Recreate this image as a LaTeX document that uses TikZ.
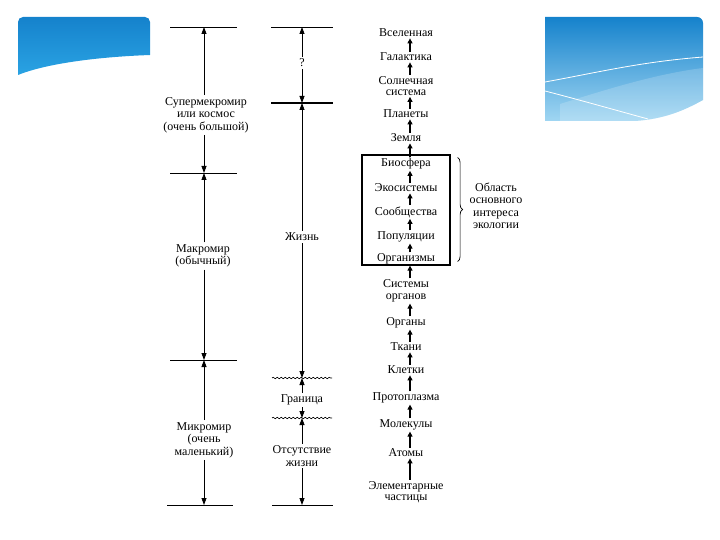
\documentclass[tikz,border=0pt]{standalone}
\usepackage{fontspec}
\setmainfont{Liberation Serif}
\usetikzlibrary{positioning,arrows.meta,decorations.pathreplacing,decorations.pathmorphing}
\definecolor{tplTop}{RGB}{21,130,204}
\definecolor{tplMid}{RGB}{42,163,227}
\definecolor{tplLow}{RGB}{160,214,242}
\tikzset{
  level/.style={font=\fontsize{12}{11}\selectfont, align=center, inner sep=1.2pt},
  scalelbl/.style={font=\fontsize{12}{12.5}\selectfont, align=center, inner sep=2pt},
  tick/.style={line width=0.9pt},
  wavytick/.style={line width=0.6pt, decorate, decoration={snake, amplitude=0.8pt, segment length=4pt}},
  dim/.style={-{Triangle[length=7pt,width=5pt]}, line width=0.8pt},
  chain/.style={-{Triangle[length=5pt,width=5pt]}, line width=1.1pt},
  ecobox/.style={draw, line width=1.2pt, minimum width=88pt, minimum height=110pt},
  bracket/.style={decorate, decoration={brace, amplitude=5pt}, line width=0.7pt}
}
\begin{document}
\begin{tikzpicture}[x=1pt,y=-1pt]
  \useasboundingbox (0,0) rectangle (720,540);
  % slide template corners
  \shade[top color=tplTop, bottom color=tplMid] (18,75) [rounded corners=5pt]-- (18,17) -- (150,17) [sharp corners]-- (150,55) .. controls (95,57) and (45,64) .. (18,75) -- cycle;
  \shade[top color=tplTop, bottom color=tplLow] (545,121) -- (545,17) [rounded corners=6pt]-- (703,17) -- (703,50) [sharp corners]-- (703,100) .. controls (685,110) and (665,119) .. (635,121) -- cycle;
  \fill[white, opacity=0.18] (560,104) .. controls (605,90) and (655,74) .. (703,68) -- (703,100) .. controls (685,110) and (665,119) .. (635,121) -- (560,121) -- cycle;
  \draw[white, line width=0.8pt] (545,82) .. controls (600,72) and (640,62) .. (703,57);
  \draw[white, line width=0.8pt] (545,91) .. controls (580,100) and (615,110) .. (648,119);

  % scale of worlds
  \coordinate (a0) at (204,27);
  \coordinate (a1) at (204,173);
  \coordinate (a2) at (204,360);
  \coordinate (a3) at (204,505);
  \foreach \c in {a0,a1,a2}
    \draw[tick] ([xshift=-34pt]\c) -- ([xshift=33pt]\c);
  \draw[tick] ([xshift=-37pt]a3) -- ([xshift=29pt]a3);
  \node[scalelbl] (super) at (206,115) {Супермекромир\\или космос\\(очень большой)};
  \node[scalelbl] (macro) at (203,256) {Макромир\\(обычный)};
  \node[scalelbl] (micro) at (204,440) {Микромир\\(очень\\маленький)};
  \draw[dim] (super.north -| a0) -- (a0);
  \draw[dim] (super.south -| a1) -- (a1);
  \draw[dim] (macro.north -| a1) -- (a1);
  \draw[dim] (macro.south -| a2) -- (a2);
  \draw[dim] (micro.north -| a2) -- (a2);
  \draw[dim] (micro.south -| a3) -- (a3);

  % scale of life
  \coordinate (b0) at (302,27);
  \coordinate (b1) at (302,103);
  \coordinate (b2) at (302,378);
  \coordinate (b3) at (302,418);
  \coordinate (b4) at (302,505);
  \draw[tick] ([xshift=-31pt]b0) -- ([xshift=31pt]b0);
  \draw[tick, line width=1.3pt] ([xshift=-31pt]b1) -- ([xshift=31pt]b1);
  \draw[tick] ([xshift=-30pt]b4) -- ([xshift=31pt]b4);
  \draw[wavytick] ([xshift=-30pt]b2) -- ([xshift=30pt]b2);
  \draw[wavytick] ([xshift=-30pt]b3) -- ([xshift=30pt]b3);
  \node[scalelbl] (qmark) at (302,63) {?};
  \node[scalelbl] (life) at (302,237) {Жизнь};
  \node[scalelbl] (border) at (302,400) {Граница};
  \node[scalelbl] (nolife) at (302,456) {Отсутствие\\жизни};
  \draw[dim] (qmark) -- (b0);
  \draw[dim] (qmark) -- (b1);
  \draw[dim] (life) -- (b1);
  \draw[dim] (life) -- (b2);
  \draw[dim] (border) -- (b2);
  \draw[dim] (border) -- (b3);
  \draw[dim] (nolife) -- (b3);
  \draw[dim] (nolife) -- (b4);

  % levels of organisation
  \node[level] (univ) at (406,33) {Вселенная};
  \node[level] (galaxy) at (406,57) {Галактика};
  \node[level] (solar) at (406,86) {Солнечная\\система};
  \node[level] (planets) at (406,114) {Планеты};
  \node[level] (earth) at (406,138) {Земля};
  \node[level] (biosph) at (406,164) {Биосфера};
  \node[level] (ecosys) at (406,188) {Экосистемы};
  \node[level] (commun) at (406,212) {Сообщества};
  \node[level] (popul) at (406,237) {Популяции};
  \node[level] (organism) at (406,259) {Организмы};
  \node[level] (systems) at (406,291) {Системы\\[1pt]органов};
  \node[level] (organs) at (406,323) {Органы};
  \node[level] (tissues) at (406,347) {Ткани};
  \node[level] (cells) at (406,370) {Клетки};
  \node[level] (protopl) at (406,398) {Протоплазма};
  \node[level] (molec) at (406,425) {Молекулы};
  \node[level] (atoms) at (406,453) {Атомы};
  \node[level] (elem) at (406,492) {Элементарные\\частицы};
  \foreach \lo/\hi in {galaxy/univ, solar/galaxy, planets/solar, earth/planets, biosph/earth,
      ecosys/biosph, commun/ecosys, popul/commun, organism/popul, systems/organism,
      organs/systems, tissues/organs, cells/tissues, protopl/cells, molec/protopl,
      atoms/molec, elem/atoms}
    \draw[chain] ([xshift=4pt]\lo.north) -- ([xshift=4pt]\hi.south);

  \node[ecobox] (ecozone) at (406,210) {};
  \draw[bracket] ([xshift=7pt,yshift=-3pt]ecozone.north east) -- ([xshift=7pt,yshift=4pt]ecozone.south east);
  \node[scalelbl, inner sep=1pt] (focus) at (496,206) {Область\\основного\\интереса\\экологии};
\end{tikzpicture}
\end{document}
